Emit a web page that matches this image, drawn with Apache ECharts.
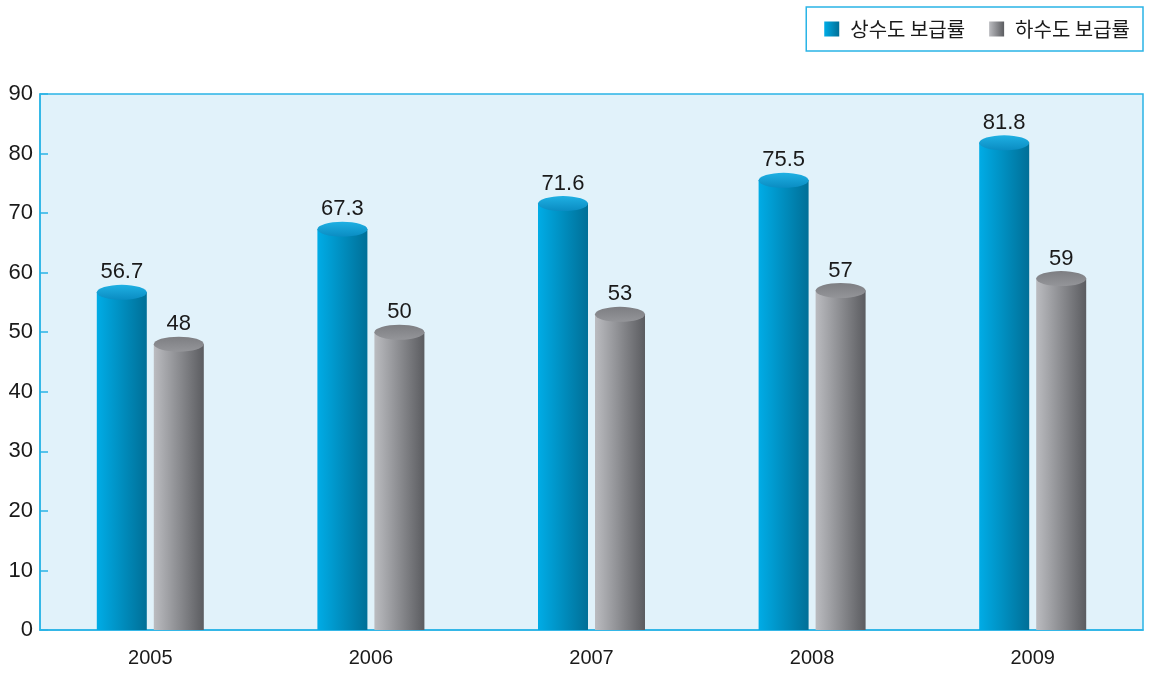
<!DOCTYPE html>
<html>
<head>
<meta charset="utf-8">
<script src="https://cdn.jsdelivr.net/npm/echarts@6/dist/echarts.min.js"></script>
<style>
  html, body { margin: 0; padding: 0; background: #fff; }
  #chart { width: 1150px; height: 684px; }
</style>
</head>
<body>
<div id="chart"></div>
<script>
const years = ['2005', '2006', '2007', '2008', '2009']
const waterSupply = [56.7, 67.3, 71.6, 75.5, 81.8]   // 상수도 보급률
const sewerage = [48, 50, 53, 57, 59]                // 하수도 보급률
const names = ['상수도 보급률', '하수도 보급률']

const chart = echarts.init(document.getElementById('chart'))

const hGrad = (a, b) => new echarts.graphic.LinearGradient(0, 0, 1, 0, [
  { offset: 0, color: a },
  { offset: 1, color: b }
])
const blueBody = hGrad('#00ace6', '#006f97')
const grayBody = hGrad('#bbbcc0', '#5b5c60')
const blueCap = new echarts.graphic.LinearGradient(0, 0, 0, 1, [
  { offset: 0, color: '#1fb0e3' },
  { offset: 1, color: '#0a8cc2' }
])
const grayCap = new echarts.graphic.LinearGradient(0, 0, 0, 1, [
  { offset: 0, color: '#7d7e82' },
  { offset: 1, color: '#949599' }
])

const numFont = 'Liberation Sans, Arial, sans-serif'

const labelStyle = {
  show: true,
  position: 'top',
  distance: 9,
  color: '#1a1a1a',
  fontSize: 22,
  letterSpacing: -1,
  fontFamily: numFont
}

const option = {
  animation: false,
  legend: {
    data: names,
    right: 7,
    top: 7,
    padding: [12, 13, 12, 18],
    backgroundColor: '#fff',
    borderColor: '#2ab4e6',
    borderWidth: 1.5,
    icon: 'rect',
    itemWidth: 15,
    itemHeight: 15,
    itemGap: 24,
    textStyle: {
      fontFamily: 'Noto Sans CJK KR',
      fontSize: 20,
      letterSpacing: -0.5,
      color: '#1a1a1a',
      padding: [0, 0, 0, 6]
    }
  },
  grid: {
    left: 40,
    right: 7,
    top: 94,
    bottom: 54,
    show: true,
    backgroundColor: '#e1f2fa',
    borderColor: '#2ab4e6',
    borderWidth: 1.5
  },
  xAxis: {
    type: 'category',
    data: years,
    axisLine: { lineStyle: { color: '#2ab4e6', width: 1.5 } },
    axisTick: { inside: true, length: 9, lineStyle: { color: '#2ab4e6', width: 1.5 } },
    axisLabel: {
      margin: 18,
      fontSize: 20,
      letterSpacing: -1,
      color: '#1a1a1a',
      fontFamily: numFont
    }
  },
  yAxis: {
    type: 'value',
    min: 0,
    max: 90,
    interval: 10,
    axisLine: { show: true, lineStyle: { color: '#2ab4e6', width: 1.5 } },
    axisTick: { show: true, inside: true, length: 8, lineStyle: { color: '#2ab4e6', width: 1.5 } },
    splitLine: { show: false },
    axisLabel: {
      margin: 7,
      fontSize: 22,
      letterSpacing: -1,
      color: '#1a1a1a',
      fontFamily: numFont
    }
  },
  series: [
    {
      name: names[0],
      type: 'bar',
      data: waterSupply,
      barWidth: 50,
      barGap: '14%',
      itemStyle: { color: blueBody },
      label: labelStyle,
      z: 2
    },
    {
      name: names[1],
      type: 'bar',
      data: sewerage,
      barWidth: 50,
      barGap: '14%',
      itemStyle: { color: grayBody },
      label: labelStyle,
      z: 2
    },
    {
      type: 'pictorialBar',
      data: waterSupply,
      barWidth: 50,
      barGap: '14%',
      symbol: 'circle',
      symbolSize: [50, 15],
      symbolPosition: 'end',
      symbolOffset: [0, '-50%'],
      itemStyle: { color: blueCap },
      z: 3
    },
    {
      type: 'pictorialBar',
      data: sewerage,
      barWidth: 50,
      barGap: '14%',
      symbol: 'circle',
      symbolSize: [50, 15],
      symbolPosition: 'end',
      symbolOffset: [0, '-50%'],
      itemStyle: { color: grayCap },
      z: 3
    }
  ]
}

chart.setOption(option)
</script>
</body>
</html>
